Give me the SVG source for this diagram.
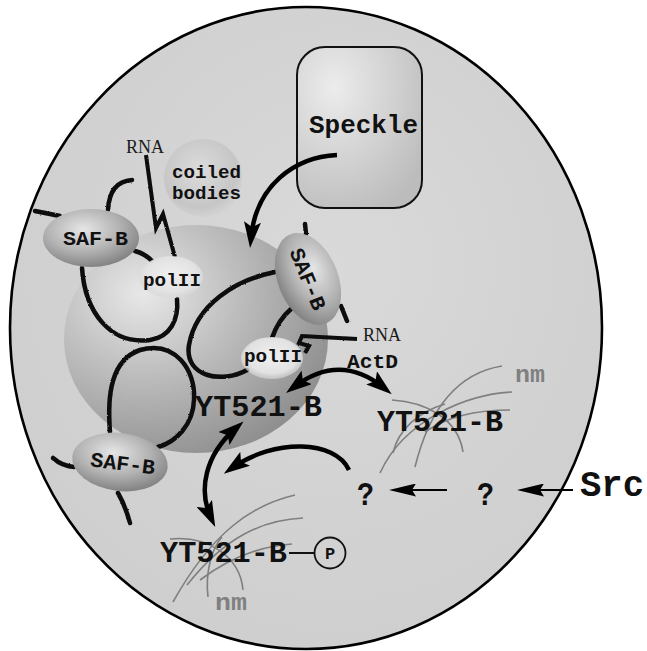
<svg xmlns="http://www.w3.org/2000/svg" width="647" height="651" viewBox="0 0 647 651">
  <style>
    .mono { font-family: "Liberation Mono", "Courier New", monospace; font-weight: bold; fill: #111; }
    .serif { font-family: "Liberation Serif", "Times New Roman", serif; fill: #1a1a1a; }
    .nm { font-family: "Liberation Mono", "Courier New", monospace; font-weight: bold; fill: #808080; }
    .fiber { fill: none; stroke: #0a0a0a; stroke-width: 4.5; stroke-linecap: round; stroke-linejoin: round; }
    .rna { fill: none; stroke: #0a0a0a; stroke-width: 4; stroke-linejoin: miter; }
    .matrix { fill: none; stroke: #7f7f7f; stroke-width: 1.6; }
    .thick { fill: none; stroke: #000; stroke-width: 4.5; }
    .thin { fill: none; stroke: #000; stroke-width: 2; }
  </style>
  <defs>
    <radialGradient id="nucleusFill" cx="0.55" cy="0.4" r="0.7">
      <stop offset="0" stop-color="#d9d9d9"/>
      <stop offset="1" stop-color="#cdcdcd"/>
    </radialGradient>
    <radialGradient id="sphereFill" cx="0.3" cy="0.3" r="0.8">
      <stop offset="0" stop-color="#e8e8e8"/>
      <stop offset="0.45" stop-color="#bdbdbd"/>
      <stop offset="1" stop-color="#8c8c8c"/>
    </radialGradient>
    <radialGradient id="speckleFill" cx="0.3" cy="0.25" r="0.85">
      <stop offset="0" stop-color="#ececec"/>
      <stop offset="1" stop-color="#bcbcbc"/>
    </radialGradient>
    <radialGradient id="safFill" cx="0.42" cy="0.35" r="0.7">
      <stop offset="0" stop-color="#e6e6e6"/>
      <stop offset="0.55" stop-color="#b2b2b2"/>
      <stop offset="1" stop-color="#7c7c7c"/>
    </radialGradient>
    <radialGradient id="polFill" cx="0.5" cy="0.45" r="0.55">
      <stop offset="0" stop-color="#f0f0f0"/>
      <stop offset="0.75" stop-color="#e2e2e2"/>
      <stop offset="1" stop-color="#d8d8d8" stop-opacity="0.6"/>
    </radialGradient>
    <radialGradient id="coiledFill" cx="0.45" cy="0.4" r="0.6">
      <stop offset="0" stop-color="#dcdcdc"/>
      <stop offset="0.8" stop-color="#c6c6c6"/>
      <stop offset="1" stop-color="#c9c9c9" stop-opacity="0.3"/>
    </radialGradient>
    <filter id="rough" x="-10%" y="-10%" width="120%" height="120%">
      <feTurbulence type="fractalNoise" baseFrequency="0.6" numOctaves="1" seed="3"/>
      <feDisplacementMap in="SourceGraphic" scale="2.2" xChannelSelector="R" yChannelSelector="G"/>
    </filter>
    <marker id="head" markerUnits="userSpaceOnUse" markerWidth="26" markerHeight="17" viewBox="0 0 26 17" refX="16" refY="8.5" orient="auto-start-reverse">
      <path d="M0,0 L26,8.5 L0,17 L5,8.5 z" fill="#000"/>
    </marker>
    <marker id="headThin" markerUnits="userSpaceOnUse" markerWidth="27" markerHeight="13" viewBox="0 0 27 13" refX="22" refY="6.5" orient="auto">
      <path d="M0,0 L27,6.5 L0,13 L4,6.5 z" fill="#000"/>
    </marker>
  </defs>

  <rect width="647" height="651" fill="#fff"/>

  <!-- nucleus -->
  <g id="nucleus">
    <ellipse cx="306" cy="328" rx="296" ry="321" fill="url(#nucleusFill)" stroke="#000" stroke-width="2.6"/>
  </g>

  <!-- speckle -->
  <g id="speckle">
    <rect x="297" y="47" width="125" height="161" rx="28" fill="url(#speckleFill)" stroke="#111" stroke-width="2"/>
    <text class="mono" x="309" y="133" font-size="26" textLength="109" lengthAdjust="spacingAndGlyphs">Speckle</text>
  </g>

  <!-- coiled bodies -->
  <g id="coiled-bodies">
    <circle cx="203" cy="178" r="39" fill="url(#coiledFill)"/>
    <text class="mono" x="172" y="178" font-size="19" textLength="69" lengthAdjust="spacingAndGlyphs">coiled</text>
    <text class="mono" x="172" y="199" font-size="19" textLength="69" lengthAdjust="spacingAndGlyphs">bodies</text>
  </g>

  <!-- nucleolar sphere -->
  <g id="sphere">
    <ellipse cx="196" cy="339" rx="132" ry="114" fill="url(#sphereFill)"/>
  </g>

  <!-- chromatin fibres -->
  <g id="chromatin" filter="url(#rough)">
    <path class="fiber" d="M132,180 C118,181 109,190 108,210"/>
    <path class="fiber" d="M35,211 L60,216"/>
    <path class="fiber" d="M135,251 Q146,254 153,262"/>
    <path class="fiber" d="M82,268 C85,312 110,345 150,340 C170,337 179,320 177,299"/>
    <path class="fiber" d="M275,272 C235,280 196,305 189,345 C184,377 222,384 247,370"/>
    <path class="fiber" d="M292,308 Q278,320 272,338"/>
    <path class="fiber" d="M341,306 L347,321"/>
    <path class="fiber" d="M305,224 L306,234"/>
    <path class="fiber" d="M110,432 C107,395 111,360 140,350 C175,340 196,370 194,400 C193,425 176,442 158,447"/>
    <path class="fiber" d="M53,458 Q62,466 74,467"/>
    <path class="fiber" d="M118,493 Q125,505 130,523"/>
    <path class="rna" d="M146,155 L156,228 L163,214 L175,257"/>
    <path class="rna" d="M357,339 L302,336 L299,343 L309,346 L305,353"/>
  </g>

  <!-- SAF-B -->
  <g id="safb-1">
    <ellipse cx="91" cy="238" rx="48" ry="29" fill="url(#safFill)"/>
    <text class="mono" x="63" y="245" font-size="21" textLength="65" lengthAdjust="spacingAndGlyphs">SAF-B</text>
  </g>
  <g id="safb-2" transform="translate(308,279) rotate(68)">
    <ellipse cx="0" cy="0" rx="48" ry="30" fill="url(#safFill)"/>
    <text class="mono" x="0" y="7" font-size="21" text-anchor="middle" textLength="65" lengthAdjust="spacingAndGlyphs">SAF-B</text>
  </g>
  <g id="safb-3" transform="translate(120,462) rotate(7)">
    <ellipse cx="0" cy="0" rx="48" ry="29" fill="url(#safFill)"/>
    <text class="mono" x="3" y="8" font-size="21" text-anchor="middle" textLength="65" lengthAdjust="spacingAndGlyphs">SAF-B</text>
  </g>

  <!-- RNA polymerase II -->
  <g id="polII-1">
    <ellipse cx="171" cy="277" rx="32" ry="21" fill="url(#polFill)"/>
    <text class="mono" x="143" y="286" font-size="19" textLength="58" lengthAdjust="spacingAndGlyphs">polII</text>
  </g>
  <g id="polII-2">
    <ellipse cx="272" cy="358" rx="31" ry="21" fill="url(#polFill)"/>
    <text class="mono" x="244" y="362" font-size="19" textLength="58" lengthAdjust="spacingAndGlyphs">polII</text>
  </g>

  <!-- nuclear matrix -->
  <g id="matrix-right">
    <path class="matrix" d="M502,366 C465,372 432,398 415,467"/>
    <path class="matrix" d="M512,392 C470,394 405,418 380,473"/>
    <path class="matrix" d="M392,400 C425,402 458,418 463,452"/>
    <path class="matrix" d="M393,453 C398,430 418,412 445,404"/>
    <path class="matrix" d="M510,410 C475,410 445,418 425,432"/>
  </g>
  <g id="matrix-lower">
    <path class="matrix" d="M295,495 C252,505 212,532 173,602"/>
    <path class="matrix" d="M303,518 C262,520 225,537 187,585"/>
    <path class="matrix" d="M170,539 C205,535 240,555 243,590"/>
    <path class="matrix" d="M208,597 C205,572 212,548 222,537"/>
    <path class="matrix" d="M292,544 C262,546 232,556 200,580"/>
  </g>

  <!-- labels -->
  <g id="labels">
    <text class="serif" x="126" y="153" font-size="18">RNA</text>
    <text class="serif" x="363" y="341" font-size="18">RNA</text>
    <text class="mono" x="347" y="368" font-size="21" textLength="51" lengthAdjust="spacingAndGlyphs">ActD</text>
    <text class="nm" x="515" y="382" font-size="24" textLength="30" lengthAdjust="spacingAndGlyphs">nm</text>
    <text class="nm" x="215" y="610" font-size="24" textLength="32" lengthAdjust="spacingAndGlyphs">nm</text>
  </g>

  <g id="yt521b-nucleolar">
    <text class="mono" x="195" y="416" font-size="30" textLength="127" lengthAdjust="spacingAndGlyphs">YT521-B</text>
  </g>
  <g id="yt521b-matrix">
    <text class="mono" x="377" y="431" font-size="30" textLength="126" lengthAdjust="spacingAndGlyphs">YT521-B</text>
  </g>
  <g id="yt521b-phospho">
    <text class="mono" x="160" y="562" font-size="30" textLength="127" lengthAdjust="spacingAndGlyphs">YT521-B</text>
    <line x1="289" y1="553" x2="314" y2="553" stroke="#111" stroke-width="2"/>
    <circle cx="330" cy="553" r="15.5" fill="none" stroke="#111" stroke-width="1.8"/>
    <text class="mono" x="330" y="559" font-size="17" text-anchor="middle">P</text>
  </g>

  <g id="kinase-1">
    <text class="mono" x="357" y="505" font-size="34" textLength="17" lengthAdjust="spacingAndGlyphs">?</text>
  </g>
  <g id="kinase-2">
    <text class="mono" x="477" y="505" font-size="34" textLength="17" lengthAdjust="spacingAndGlyphs">?</text>
  </g>
  <g id="src">
    <text class="mono" x="580" y="496" font-size="36" textLength="64" lengthAdjust="spacingAndGlyphs">Src</text>
  </g>

  <!-- connectors -->
  <g id="connectors">
    <path class="thick" d="M337,155 C295,157 256,185 251,238" marker-end="url(#head)"/>
    <path class="thick" d="M294,387 Q340,352 384,388" marker-start="url(#head)" marker-end="url(#head)"/>
    <path class="thick" d="M236,428 C205,455 198,490 211,518" marker-start="url(#head)" marker-end="url(#head)"/>
    <path class="thick" d="M349,470 C335,440 275,438 232,468" marker-end="url(#head)"/>
    <path class="thin" d="M573,490 L522,490" marker-end="url(#headThin)"/>
    <path class="thin" d="M447,490 L394,490" marker-end="url(#headThin)"/>
  </g>
</svg>
